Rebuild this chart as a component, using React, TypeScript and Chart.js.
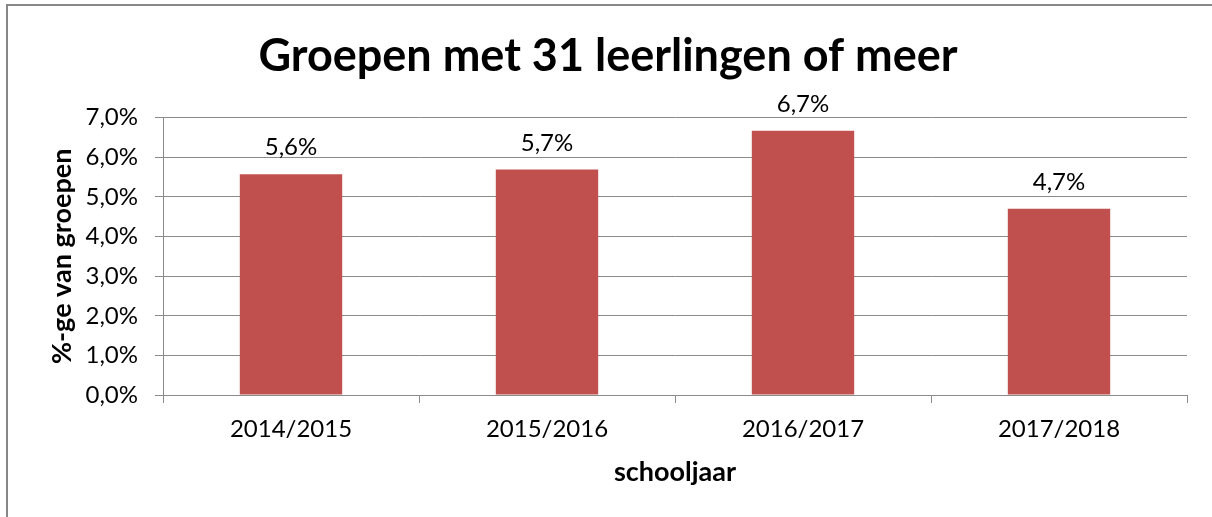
import React, { useEffect, useRef } from "react";
import { Chart, registerables } from "chart.js";

Chart.register(...registerables);

const categories = ["2014/2015", "2015/2016", "2016/2017", "2017/2018"];
const percentages = [5.57, 5.69, 6.67, 4.7];
const yMin = 0;
const yMax = 7;
const yStep = 1;
const titleText = "Groepen met 31 leerlingen of meer";
const yTitle = "%-ge van groepen";
const xTitle = "schooljaar";

const FONT = "Lato";
const GRID = "#8a8a8a";
const BAR = "#C0504D";

const fmt = (v: number) => v.toFixed(1).replace(".", ",") + "%";

const labelPlugin = {
  id: "barLabels",
  afterDatasetsDraw(chart: any) {
    const ctx = chart.ctx;
    const meta = chart.getDatasetMeta(0);
    ctx.save();
    ctx.fillStyle = "#000";
    ctx.font = `24px ${FONT}`;
    ctx.textAlign = "center";
    ctx.textBaseline = "alphabetic";
    meta.data.forEach((el: any, i: number) => {
      const v = chart.data.datasets[0].data[i] as number;
      ctx.fillText(fmt(v), el.x, el.y - 19);
    });
    ctx.restore();
  },
};

const titlePlugin = {
  id: "centeredTitle",
  afterDraw(chart: any) {
    const ctx = chart.ctx;
    ctx.save();
    ctx.fillStyle = "#000";
    ctx.font = `bold 45px ${FONT}`;
    ctx.textAlign = "center";
    ctx.textBaseline = "alphabetic";
    ctx.fillText(titleText, chart.width / 2 + 2, 71);
    ctx.restore();
  },
};

export default function App() {
  const ref = useRef<HTMLCanvasElement>(null);
  useEffect(() => {
    document.body.style.margin = "0";
    const chart = new Chart(ref.current!, {
      type: "bar",
      data: {
        labels: categories,
        datasets: [
          {
            data: percentages,
            backgroundColor: BAR,
            borderWidth: 0,
            categoryPercentage: 1,
            barPercentage: 0.4,
          },
        ],
      },
      plugins: [labelPlugin, titlePlugin],
      options: {
        animation: false,
        responsive: false,
        maintainAspectRatio: false,
        layout: { padding: { left: 0, right: 25, top: 117.7, bottom: 0 } },
        plugins: {
          legend: { display: false },
          tooltip: { enabled: false },
          title: { display: false },
        },
        scales: {
          x: {
            offset: true,
            grid: {
              display: true,
              drawOnChartArea: false,
              drawTicks: true,
              tickLength: 8,
              color: GRID,
              offset: true,
            },
            border: { display: true, color: GRID, width: 1 },
            ticks: {
              color: "#000",
              font: { family: FONT, size: 24 },
              padding: 12,
              maxRotation: 0,
            },
            title: {
              display: true,
              text: xTitle,
              color: "#000",
              font: { family: FONT, size: 27, weight: "bold" },
              padding: { top: 0, bottom: 29 },
            },
            afterFit(scale: any) {
              scale.height = 122;
            },
          },
          y: {
            min: yMin,
            max: yMax,
            grid: {
              color: GRID,
              tickLength: 8,
              lineWidth: 1,
            },
            border: { display: true, color: GRID, width: 1 },
            ticks: {
              stepSize: yStep,
              color: "#000",
              font: { family: FONT, size: 24 },
              padding: 17,
              callback: (v: any) => fmt(Number(v)),
            },
            title: {
              display: true,
              text: yTitle,
              color: "#000",
              font: { family: FONT, size: 27, weight: "bold" },
              padding: { top: 46, bottom: 0 },
            },
            afterFit(scale: any) {
              scale.width = 163;
            },
          },
        },
      },
    });
    return () => chart.destroy();
  }, []);

  return (
    <div style={{ position: "relative", width: 1212, height: 517, background: "#fff" }}>
      <canvas ref={ref} width={1212} height={517} style={{ display: "block" }} />
      <div
        style={{
          position: "absolute",
          left: 6,
          top: 4,
          right: 0,
          bottom: 0,
          borderTop: "2px solid #878787",
          borderLeft: "2px solid #878787",
          pointerEvents: "none",
        }}
      />
    </div>
  );
}
